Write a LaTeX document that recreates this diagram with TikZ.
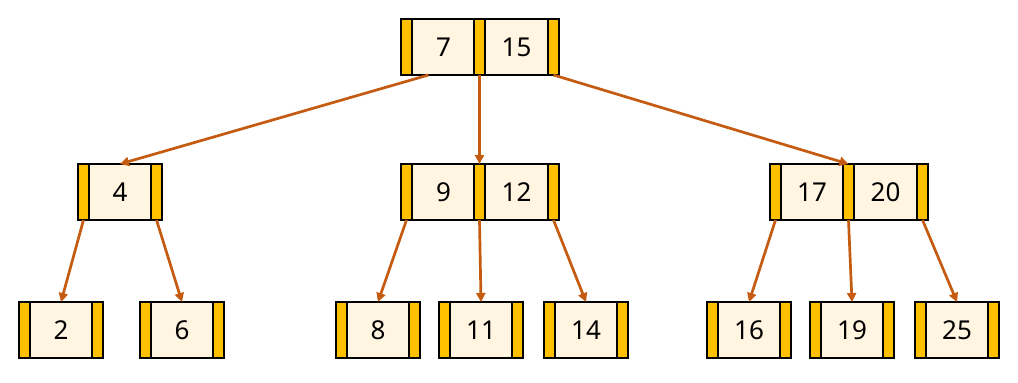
\documentclass[tikz,border=0pt]{standalone}
\usepackage{fontspec}
\setmainfont{Noto Sans}
\usetikzlibrary{arrows.meta}
\definecolor{ptrgold}{HTML}{FFC000}
\definecolor{keycream}{HTML}{FFF5E1}
\definecolor{edgeor}{HTML}{C55A11}
\tikzset{
  ptr/.style={draw=black, line width=1.3pt, fill=ptrgold, minimum width=11pt, minimum height=56pt, inner sep=0pt, outer sep=0pt},
  keycell/.style={draw=black, line width=1.3pt, fill=keycream, minimum width=62pt, minimum height=56pt, inner sep=0pt, outer sep=0pt, font=\fontsize{26}{30}\selectfont},
  link/.style={draw=edgeor, line width=2.7pt, -{Triangle[length=9pt,width=9pt]}}
}
\begin{document}
\begin{tikzpicture}[x=1pt,y=-1pt]
\useasboundingbox (0,0) rectangle (1018,383);
% root
\node[ptr] (r0) at (406.5,47) {};
\node[keycell] (rk1) at (443.5,47) {7};
\node[ptr] (r1) at (479.5,47) {};
\node[keycell] (rk2) at (516.5,47) {15};
\node[ptr] (r2) at (553.5,47) {};
% level 2 left
\node[ptr] (a0) at (83.5,192) {};
\node[keycell] (ak1) at (120,192) {4};
\node[ptr] (a1) at (156.5,192) {};
% level 2 middle
\node[ptr] (b0) at (406.5,192) {};
\node[keycell] (bk1) at (443.5,192) {9};
\node[ptr] (b1) at (479.5,192) {};
\node[keycell] (bk2) at (516.5,192) {12};
\node[ptr] (b2) at (553.5,192) {};
% level 2 right
\node[ptr] (c0) at (775.5,192) {};
\node[keycell] (ck1) at (812,192) {17};
\node[ptr] (c1) at (848.5,192) {};
\node[keycell] (ck2) at (885.5,192) {20};
\node[ptr] (c2) at (922.5,192) {};
% leaves
\foreach \nm/\cx/\val in {l2/61/2, l6/182/6, l8/378/8, l11/481/11, l14/586/14, l16/749/16, l19/852/19, l25/957/25}{
  \node[ptr] (\nm p0) at (\cx-36.5,330) {};
  \node[keycell] (\nm) at (\cx,330) {\val};
  \node[ptr] (\nm p1) at (\cx+36.5,330) {};
}
% edges root
\coordinate (rs) at ([xshift=16pt]rk1.south west);
\draw[link] (rs) -- (ak1.north);
\draw[link] (r1.south) -- (b1.north);
\draw[link] (r2.south) -- (c1.north);
% edges level 2
\draw[link] (a0.south) -- (l2.north);
\draw[link] (a1.south) -- (l6.north);
\draw[link] (b0.south) -- (l8.north);
\draw[link] (b1.south) -- (l11.north);
\draw[link] (b2.south) -- (l14.north);
\draw[link] (c0.south) -- (l16.north);
\draw[link] (c1.south) -- (l19.north);
\draw[link] (c2.south) -- (l25.north);
\end{tikzpicture}
\end{document}
